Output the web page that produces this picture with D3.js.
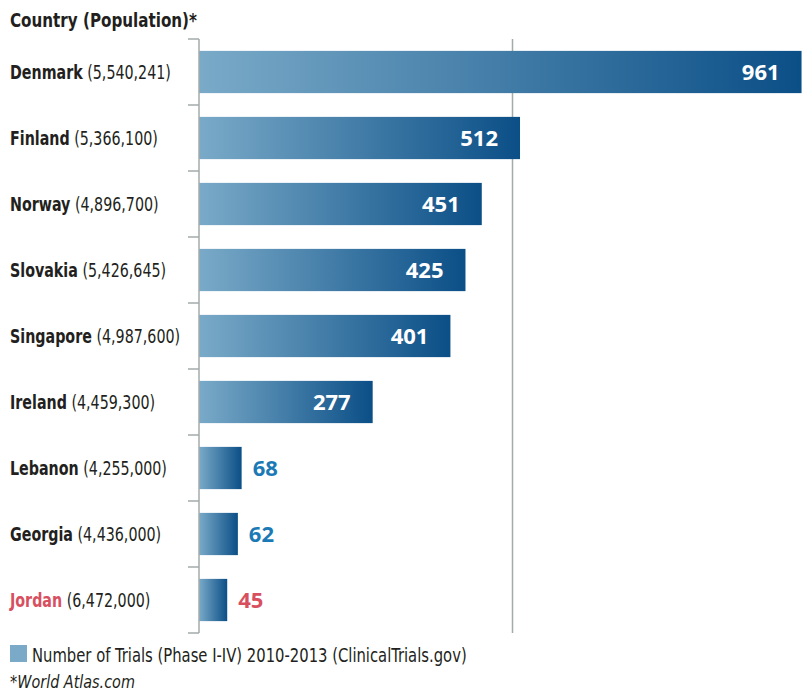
<!DOCTYPE html>
<html>
<head>
<meta charset="utf-8">
<script src="https://cdn.jsdelivr.net/npm/d3@7"></script>
<style>
  html, body { margin: 0; padding: 0; background: #fff; }
  svg { display: block; }
  .cond { font-family: "DejaVu Sans", sans-serif; font-stretch: condensed; }
  .val { font-family: "Open Sans", "Noto Sans", sans-serif; font-weight: 700; }
</style>
</head>
<body>
<svg id="chart" width="805" height="694"></svg>
<script>
// Countries with population and number of trials (2010-2013)
const countries   = ["Denmark", "Finland", "Norway", "Slovakia", "Singapore", "Ireland", "Lebanon", "Georgia", "Jordan"];
const populations = ["5,540,241", "5,366,100", "4,896,700", "5,426,645", "4,987,600", "4,459,300", "4,255,000", "4,436,000", "6,472,000"];
const trials      = [961, 512, 451, 425, 401, 277, 68, 62, 45];
const gridValues  = [500];
const highlight   = "Jordan";

const svg = d3.select("#chart");
const x0 = 199;

const x = d3.scaleLinear().domain([0, 1000]).range([x0, 826]);
const y = d3.scaleBand().domain(countries).range([39, 633])
  .paddingInner(0.36).paddingOuter(0.18);

const axisColor = "#a3abab";
const dark = "#0b4f87", light = "#7aaac8";
const blueText = "#1b7ab5", redText = "#d8505f";
const ink = "#231f20";

// per-bar horizontal gradient (light at the axis, dark at the bar end)
const defs = svg.append("defs");
const grad = defs.append("linearGradient").attr("id", "barGrad")
  .attr("x1", "0%").attr("x2", "100%").attr("y1", "0%").attr("y2", "0%");
grad.append("stop").attr("offset", "0%").attr("stop-color", light);
grad.append("stop").attr("offset", "100%").attr("stop-color", dark);

// vertical gridline(s)
svg.selectAll("line.grid").data(gridValues).join("line")
  .attr("class", "grid")
  .attr("x1", d => x(d)).attr("x2", d => x(d))
  .attr("y1", y.range()[0]).attr("y2", y.range()[1])
  .attr("stroke", axisColor).attr("stroke-width", 1.5);

// bars
const data = countries.map((c, i) => ({ c, pop: populations[i], v: trials[i] }));
svg.selectAll("rect.bar").data(data).join("rect")
  .attr("class", "bar")
  .attr("x", x(0))
  .attr("y", d => y(d.c))
  .attr("width", d => x(d.v) - x(0))
  .attr("height", y.bandwidth())
  .attr("fill", "url(#barGrad)");

// axis line with ticks at band boundaries
const step = y.step();
const bounds = countries.map(c => y(c) - step * y.paddingInner() / 2)
  .concat([y(countries[countries.length - 1]) + y.bandwidth() + step * y.paddingInner() / 2]);
svg.append("line")
  .attr("x1", x0).attr("x2", x0)
  .attr("y1", bounds[0]).attr("y2", bounds[bounds.length - 1])
  .attr("stroke", axisColor).attr("stroke-width", 1.5);
svg.selectAll("line.tick").data(bounds).join("line")
  .attr("class", "tick")
  .attr("x1", x0 - 11).attr("x2", x0)
  .attr("y1", d => d).attr("y2", d => d)
  .attr("stroke", axisColor).attr("stroke-width", 1.5);

// value labels: inside long bars, outside short ones
const insideMin = 200;
svg.selectAll("text.val").data(data).join("text")
  .attr("class", "val")
  .attr("x", d => d.v >= insideMin ? x(d.v) - 22 : x(d.v) + 11)
  .attr("y", d => y(d.c) + y.bandwidth() / 2)
  .attr("dy", "0.36em")
  .attr("text-anchor", d => d.v >= insideMin ? "end" : "start")
  .attr("font-size", 22)
  .attr("fill", d => d.v >= insideMin ? "#fff" : (d.c === highlight ? redText : blueText))
  .text(d => d.v);

// Squeeze a text element horizontally so it spans a given width (condensed look)
function squeezeTo(sel, width) {
  sel.each(function () {
    const t = d3.select(this);
    const f = Math.min(1, width / this.getComputedTextLength());
    const ax = +t.attr("x"), ay = +t.attr("y");
    t.attr("transform", `translate(${ax},${ay}) scale(${f},1) translate(${-ax},${-ay})`);
  });
}

// country labels
const lab = svg.selectAll("text.lab").data(data).join("text")
  .attr("class", "lab cond")
  .attr("x", 10)
  .attr("y", d => y(d.c) + y.bandwidth() / 2)
  .attr("dy", "0.36em")
  .attr("font-size", 19.5)
  .attr("fill", ink);
lab.append("tspan").attr("font-weight", 700)
  .attr("fill", d => d.c === highlight ? redText : ink)
  .text(d => d.c);
lab.append("tspan").text(d => " (" + d.pop + ")");

// header
const head = svg.append("text").attr("class", "cond")
  .attr("x", 10).attr("y", 27)
  .attr("font-size", 19.5).attr("font-weight", 700).attr("fill", ink)
  .text("Country (Population)*");

// legend
svg.append("rect").attr("x", 10).attr("y", 645).attr("width", 17).attr("height", 17).attr("fill", light);
const leg = svg.append("text").attr("class", "cond")
  .attr("x", 32).attr("y", 662)
  .attr("font-size", 19.5).attr("fill", ink)
  .text("Number of Trials (Phase I-IV) 2010-2013 (ClinicalTrials.gov)");

const note = svg.append("text").attr("class", "cond")
  .attr("x", 10).attr("y", 688)
  .attr("font-size", 17).attr("font-style", "italic").attr("fill", ink)
  .text("*World Atlas.com");

// condensed widths; all country labels share the Denmark factor
const fLab = Math.min(1, 161 / lab.node().getComputedTextLength());
lab.each(function () {
  const t = d3.select(this);
  const ax = +t.attr("x"), ay = +t.attr("y");
  t.attr("transform", `translate(${ax},${ay}) scale(${fLab},1) translate(${-ax},${-ay})`);
});
squeezeTo(head, 187);
squeezeTo(leg, 435);
squeezeTo(note, 125);
</script>
</body>
</html>
